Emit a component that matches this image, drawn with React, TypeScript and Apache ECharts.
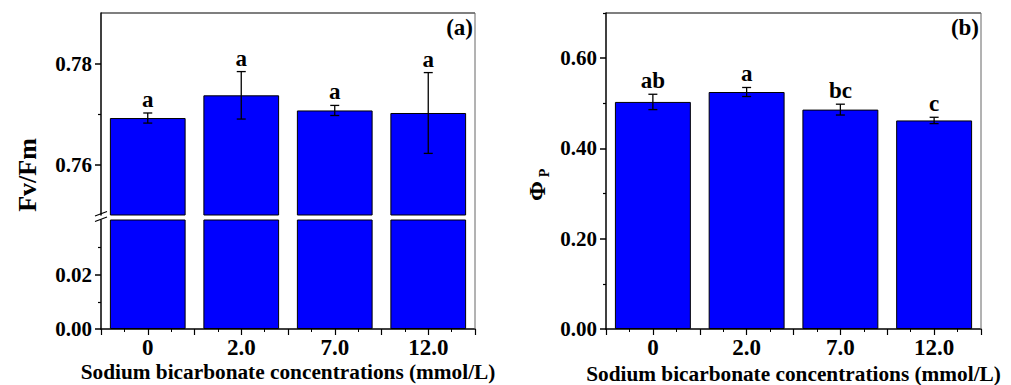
import React, { useEffect, useRef } from 'react';
import * as echarts from 'echarts';

const categories = ['0', '2.0', '7.0', '12.0'];
const fvfm = [0.7692, 0.7737, 0.7707, 0.7702];
const fvfmErr = [0.001, 0.0047, 0.001, 0.008];
const fvfmLetters = ['a', 'a', 'a', 'a'];
const phiP = [0.503, 0.525, 0.486, 0.462];
const phiPErr = [0.017, 0.01, 0.012, 0.007];
const phiPLetters = ['ab', 'a', 'bc', 'c'];
const upperTicks = [0.76, 0.78];
const upperMinor = [0.77];
const lowerTicks = [0, 0.02];
const lowerMinor = [0.01, 0.03];
const phiTicks = [0, 0.2, 0.4, 0.6];
const phiMinor = [0.1, 0.3, 0.5, 0.7];
const xTitle = 'Sodium bicarbonate concentrations (mmol/L)';

const FONT = "'Liberation Serif', 'Times New Roman', serif";

export default function App() {
  const ref = useRef<HTMLDivElement>(null);
  useEffect(() => {
    if (!ref.current) return;
    const chart = echarts.init(ref.current, undefined, { renderer: 'svg' });
    const txt = (size: number) => ({ fontFamily: FONT, fontWeight: 'bold' as const, fontSize: size, color: '#000' });

    const majorY = (grid: number, min: number, max: number, ticks: number[]) => ({
      type: 'value', gridIndex: grid, position: 'left', min, max, interval: 0.01,
      axisLine: { show: true, lineStyle: { color: '#000', width: 1.5 } },
      axisTick: { show: true, inside: false, length: 6, customValues: ticks, lineStyle: { color: '#000', width: 1.5 } },
      axisLabel: { show: true, customValues: ticks, margin: 9, formatter: (v: number) => v.toFixed(2), ...txt(21) },
      splitLine: { show: false },
    });
    const minorY = (grid: number, min: number, max: number, ticks: number[]) => ({
      type: 'value', gridIndex: grid, position: 'left', min, max, interval: 0.01,
      axisLine: { show: false },
      axisTick: { show: true, inside: false, length: 3, customValues: ticks, lineStyle: { color: '#000', width: 1.2 } },
      axisLabel: { show: false },
      splitLine: { show: false },
    });
    const catX = (grid: number, show: boolean) => ({
      type: 'category', gridIndex: grid, data: categories, position: 'bottom',
      axisLine: { show: false }, axisTick: { show: false },
      axisLabel: { show, margin: 7, ...txt(23) },
      name: show ? xTitle : '', nameLocation: 'middle', nameGap: 32,
      nameTextStyle: txt(21.3),
      splitLine: { show: false },
    });
    const tickX = (grid: number) => ({
      type: 'value', gridIndex: grid, position: 'bottom', min: 0, max: 4, interval: 0.5,
      axisLine: { show: true, lineStyle: { color: '#000', width: 1.5 } },
      axisTick: { show: true, inside: false, length: 6, lineStyle: { color: '#000', width: 1.2 } },
      minorTick: { show: true, splitNumber: 2, length: 3, lineStyle: { color: '#000', width: 1 } },
      axisLabel: { show: false }, splitLine: { show: false }, minorSplitLine: { show: false },
    });

    const barStyle = { color: '#0000FF', borderColor: '#000', borderWidth: 1 };
    const errSeries = (xi: number, yi: number, vals: number[], errs: number[]) => ({
      type: 'custom', xAxisIndex: xi, yAxisIndex: yi, z: 5,
      data: vals.map((v, i) => [i, v - errs[i], v + errs[i]]),
      encode: { x: 0, y: [1, 2] },
      renderItem: (params: any, api: any) => {
        const i = api.value(0);
        const lo = api.coord([i, api.value(1)]);
        const hi = api.coord([i, api.value(2)]);
        const w = 4.5;
        const ls = { stroke: '#000', lineWidth: 1.3 };
        return {
          type: 'group',
          children: [
            { type: 'line', shape: { x1: hi[0], y1: hi[1], x2: lo[0], y2: lo[1] }, style: ls },
            { type: 'line', shape: { x1: hi[0] - w, y1: hi[1], x2: hi[0] + w, y2: hi[1] }, style: ls },
            { type: 'line', shape: { x1: lo[0] - w, y1: lo[1], x2: lo[0] + w, y2: lo[1] }, style: ls },
          ],
        };
      },
    });
    const letterSeries = (xi: number, yi: number, vals: number[], errs: number[], letters: string[]) => ({
      type: 'custom', xAxisIndex: xi, yAxisIndex: yi, z: 6,
      data: vals.map((v, i) => [i, v + errs[i]]),
      encode: { x: 0, y: 1 },
      renderItem: (params: any, api: any) => {
        const i = api.value(0);
        const p = api.coord([i, api.value(1)]);
        return {
          type: 'text', x: p[0], y: p[1] - 2,
          style: { text: letters[params.dataIndex], fill: '#000', font: `bold 23px ${FONT}`, align: 'center', verticalAlign: 'bottom' },
        };
      },
    });

    const line = (x1: number, y1: number, x2: number, y2: number, color = '#000', w = 1.2) => ({
      type: 'line', shape: { x1, y1, x2, y2 }, style: { stroke: color, lineWidth: w }, z: 100,
    });

    chart.setOption({
      animation: false,
      backgroundColor: '#fff',
      grid: [
        { left: 101, top: 13, width: 374, height: 202, outerBoundsMode: 'none', containLabel: false },
        { left: 101, top: 220, width: 374, height: 109, outerBoundsMode: 'none', containLabel: false },
        { left: 606, top: 13, width: 375, height: 316, outerBoundsMode: 'none', containLabel: false },
      ],
      xAxis: [catX(0, false), catX(1, true), tickX(1), catX(2, true), tickX(2)],
      yAxis: [
        majorY(0, 0.75, 0.79, upperTicks), minorY(0, 0.75, 0.79, upperMinor),
        majorY(1, 0, 0.04, lowerTicks), minorY(1, 0, 0.04, lowerMinor),
        majorY(2, 0, 0.7, phiTicks), minorY(2, 0, 0.7, phiMinor),
      ],
      series: [
        { type: 'bar', xAxisIndex: 0, yAxisIndex: 0, data: fvfm, barWidth: '81%', itemStyle: barStyle, clip: true },
        { type: 'bar', xAxisIndex: 1, yAxisIndex: 2, data: fvfm, barWidth: '81%', itemStyle: barStyle, clip: true },
        errSeries(0, 0, fvfm, fvfmErr),
        letterSeries(0, 0, fvfm, fvfmErr, fvfmLetters),
        { type: 'bar', xAxisIndex: 3, yAxisIndex: 4, data: phiP, barWidth: '81%', itemStyle: barStyle, clip: true },
        errSeries(3, 4, phiP, phiPErr),
        letterSeries(3, 4, phiP, phiPErr, phiPLetters),
      ],
      graphic: [
        line(101, 13, 475, 13, '#000', 1.2),
        line(475, 13, 475, 329, '#666', 1),
        line(606, 13, 981, 13, '#000', 1.2),
        line(981, 13, 981, 329, '#666', 1),
        line(95, 216, 107, 211.5, '#000', 1.2),
        line(95, 221.5, 107, 217, '#000', 1.2),
        {
          type: 'text', x: 27, y: 175, rotation: Math.PI / 2, z: 100,
          style: { text: 'Fv/Fm', font: `bold 26px ${FONT}`, fill: '#000', align: 'center', verticalAlign: 'middle' },
        },
        {
          type: 'text', x: 537, y: 191, rotation: Math.PI / 2, z: 100,
          style: { text: 'Φ', font: `bold 24px ${FONT}`, fill: '#000', align: 'center', verticalAlign: 'middle' },
        },
        {
          type: 'text', x: 544, y: 173, rotation: Math.PI / 2, z: 100,
          style: { text: 'P', font: `bold 14px ${FONT}`, fill: '#000', align: 'center', verticalAlign: 'middle' },
        },
        {
          type: 'text', x: 473, y: 16, z: 100,
          style: { text: '(a)', font: `bold 23px ${FONT}`, fill: '#000', align: 'right', verticalAlign: 'top' },
        },
        {
          type: 'text', x: 979, y: 16, z: 100,
          style: { text: '(b)', font: `bold 23px ${FONT}`, fill: '#000', align: 'right', verticalAlign: 'top' },
        },
      ],
    });
    return () => chart.dispose();
  }, []);
  return <div ref={ref} style={{ position: 'fixed', left: 0, top: 0, width: 1011, height: 385, background: '#fff' }} />;
}
